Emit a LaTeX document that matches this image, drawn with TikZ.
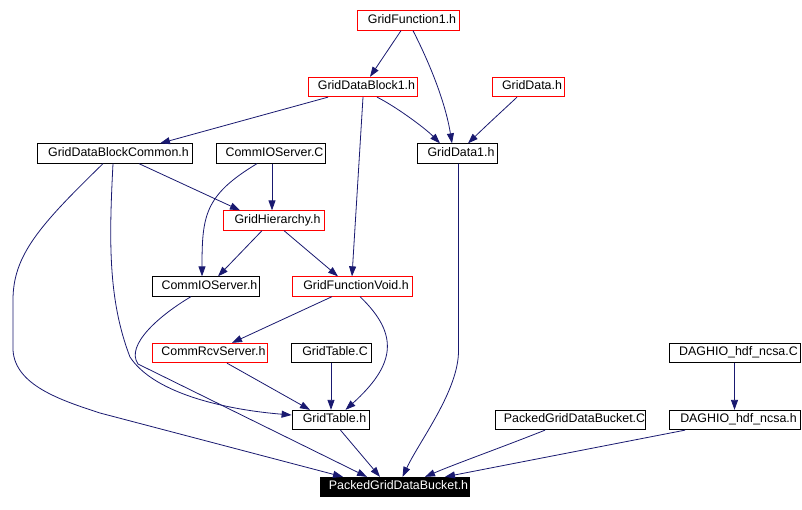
\documentclass[tikz,border=0pt]{standalone}
\usepackage{fontspec}
\setmainfont{Liberation Sans}
\usepackage{xcolor}
\usepackage{tikz}
\usetikzlibrary{arrows.meta, positioning}
\definecolor{DoxEdgeNavy}{RGB}{25, 25, 112}
\definecolor{DoxBoxRed}{RGB}{255, 0, 0}

\begin{document}
\begin{tikzpicture}[x=1pt, y=-1pt,
    filebox/.style={draw=black, line width=0.8pt, inner sep=0pt, minimum height=19.5,
                    text height=8.8pt, text depth=3pt, font=\fontsize{12.4}{14}\selectfont,
                    execute at begin node=\hspace*{8pt}},
    redfile/.style={filebox, draw=DoxBoxRed},
    rootfile/.style={filebox, fill=black, text=white},
    incl/.style={draw=DoxEdgeNavy, line width=0.8pt, -{Triangle[length=10pt, width=7pt]}}]
    \path[use as bounding box, fill=white] (0,0) rectangle (802,509);

    % files
    \node[redfile, minimum width=102] (gf1) at (408,20.5) {GridFunction1.h};
    \node[redfile, minimum width=109] (gdb1) at (362.5,87) {GridDataBlock1.h};
    \node[redfile, minimum width=72] (gd) at (528,87) {GridData.h};
    \node[filebox, minimum width=155] (gdbc) at (114.5,153.5) {GridDataBlockCommon.h};
    \node[filebox, minimum width=109] (cioc) at (270.5,153.5) {CommIOServer.C};
    \node[filebox, minimum width=80] (gd1) at (457,153.5) {GridData1.h};
    \node[redfile, minimum width=101] (gh) at (273.5,220.5) {GridHierarchy.h};
    \node[filebox, minimum width=107] (cioh) at (205.5,286.5) {CommIOServer.h};
    \node[redfile, minimum width=120] (gfv) at (352,286.5) {GridFunctionVoid.h};
    \node[redfile, minimum width=115] (crs) at (209.5,353) {CommRcvServer.h};
    \node[filebox, minimum width=80] (gtc) at (331,353) {GridTable.C};
    \node[filebox, minimum width=131] (dhc) at (734.5,353) {DAGHIO\_hdf\_ncsa.C};
    \node[filebox, minimum width=77] (gth) at (330.5,420) {GridTable.h};
    \node[filebox, minimum width=149] (pgdbc) at (570.5,420) {PackedGridDataBucket.C};
    \node[filebox, minimum width=131] (dhh) at (734.5,420) {DAGHIO\_hdf\_ncsa.h};
    \node[rootfile, minimum width=149] (pgdbh) at (394.5,487) {PackedGridDataBucket.h};

    % includes
    \draw[incl] ([xshift=-7]gf1.south) -- ([xshift=7.5]gdb1.north);
    \draw[incl] ([xshift=5]gf1.south) .. controls (428,60) and (445,100) .. ([xshift=-5]gd1.north);
    \draw[incl] ([xshift=14.5]gdb1.south) .. controls (395,106) and (425,128) .. ([xshift=-17]gd1.north);
    \draw[incl] ([xshift=-11]gd.south) .. controls (512,102) and (490,122) .. ([xshift=11]gd1.north);
    \draw[incl] ([xshift=-34.5]gdb1.south) -- ([xshift=45.5]gdbc.north);
    \draw[incl] ([xshift=0.5]gdb1.south) -- (gfv.north);
    \draw[incl] ([xshift=24.5]gdbc.south) -- ([xshift=-33.5]gh.north);
    \draw[incl] ([xshift=-11.5]gdbc.south) .. controls (40,225) and (13,255) .. (13,300)
        -- (13,350) .. controls (15,385) and (60,400) .. (100,413) -- ([xshift=-51.5]pgdbh.north);
    \draw[incl] ([xshift=-1.5]gdbc.south) .. controls (109,240) and (108,300) .. (130,357)
        .. controls (155,395) and (230,410) .. ([yshift=5]gth.west);
    \draw[incl] ([xshift=1.5]cioc.south) -- ([xshift=-1.5]gh.north);
    \draw[incl] ([xshift=-13.5]cioc.south) .. controls (205,195) and (202,215) .. ([xshift=-3.5]cioh.north);
    \draw[incl] ([xshift=-11.5]gh.south) -- ([xshift=12.5]cioh.north);
    \draw[incl] ([xshift=10.5]gh.south) -- ([xshift=-14]gfv.north);
    \draw[incl] ([xshift=-20]gfv.south) -- ([xshift=22.5]crs.north);
    \draw[incl] ([xshift=8]gfv.south) .. controls (400,335) and (395,365) .. ([xshift=15]gth.north);
    \draw[incl] ([xshift=17.5]crs.south) -- ([xshift=-20.5]gth.north);
    \draw[incl] (gtc.south) -- (gtc.south |- gth.north);
    \draw[incl] ([xshift=10]gth.south) -- ([xshift=-14.5]pgdbh.north);
    \draw[incl] ([xshift=1.5]gd1.south) -- (458.5,350) .. controls (459,390) and (420,440) .. ([xshift=8]pgdbh.north);
    \draw[incl] ([xshift=-14.5]cioh.south) .. controls (160,315) and (125,345) .. (138,364)
        -- ([xshift=-27.5]pgdbh.north);
    \draw[incl] ([xshift=-25.5]pgdbc.south) .. controls (500,448) and (455,464) .. ([xshift=30.5]pgdbh.north);
    \draw[incl] ([xshift=-49.5]dhh.south) -- ([xshift=50.5]pgdbh.north);
    \draw[incl] (dhc) -- (dhh);
\end{tikzpicture}
\end{document}
